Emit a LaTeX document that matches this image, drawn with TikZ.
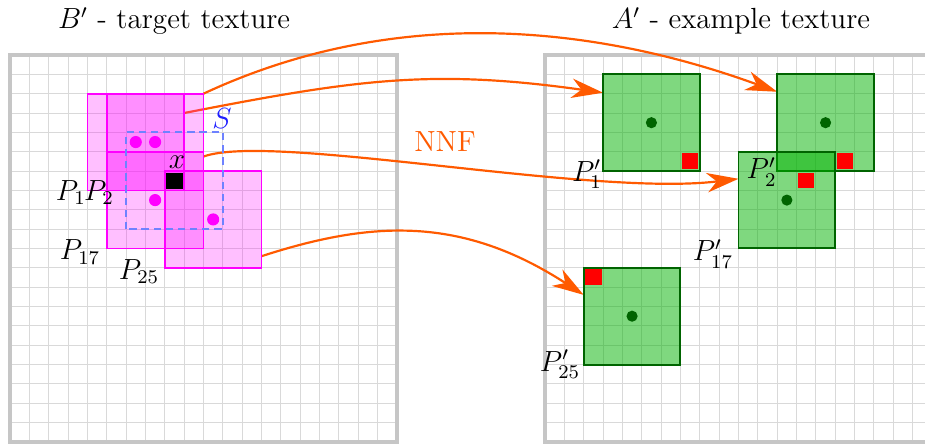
\documentclass[tikz,border=0pt]{standalone}
\usepackage{tikz}
\usetikzlibrary{arrows.meta,calc}
\definecolor{nnforange}{RGB}{255,90,0}
\definecolor{magpink}{RGB}{255,0,255}
\definecolor{patchgreen}{RGB}{0,178,0}
\definecolor{edgegreen}{RGB}{0,100,0}
\definecolor{sblue}{RGB}{110,130,255}
\definecolor{slabel}{RGB}{30,30,255}
\pgfdeclarelayer{griglia}
\pgfdeclarelayer{frecce}
\pgfsetlayers{griglia,frecce,main}
\tikzset{
  cella/.style={gray!30, line width=0.4pt, step=1},
  cornice/.style={gray!45, line width=1.3pt},
  magpatch/.style={draw=magpink, line width=0.7pt, fill=magpink, fill opacity=0.25,
    minimum size=1.4cm, inner sep=0pt, outer sep=0pt},
  verdepatch/.style={draw=edgegreen, line width=0.8pt, fill=patchgreen, fill opacity=0.5,
    minimum size=1.4cm, inner sep=0pt, outer sep=0pt},
  nnf/.style={draw=nnforange, line width=0.9pt, -{Stealth[length=13pt,width=8pt,inset=4pt]}}
}
\begin{document}
\begin{tikzpicture}[x=0.28cm,y=0.28cm,font=\large]
        \useasboundingbox (-0.517,-0.103) rectangle (47.29,22.842);
        % griglie
        \begin{pgfonlayer}{griglia}
        \draw[cella] (0,0) grid (20,20);\draw[cornice] (0,0) rectangle (20,20);
        \begin{scope}[shift={(27.65,0)}]
        \draw[cella] (0,0) grid (20,20);\draw[cornice] (0,0) rectangle (20,20);
        \end{scope}
        \end{pgfonlayer}
        % titoli
        \node (titB) at (8.48,21.75) {$B'$ - target texture};
        \node (titA) at (37.78,21.75) {$A'$ - example texture};
        % patch target
        \node[magpatch] (P1) at (6.5,15.5) {};\node[magpatch] (P2) at (7.5,15.5) {};
        \node[magpatch] (P17) at (7.5,12.5) {};\node[magpatch] (P25) at (10.5,11.5) {};
        % finestra S e pixel x
        \draw[sblue, line width=0.9pt, dash pattern=on 3pt off 2pt] (6,11) rectangle (11,16);
        \fill[black] (8.08,13.08) rectangle (8.92,13.92);
        % centri
        \fill[magpink] (P1.center) circle (2.5pt);\fill[magpink] (P2.center) circle (2.5pt);
        \fill[magpink] (P17.center) circle (2.5pt);\fill[magpink] (P25.center) circle (2.5pt);
        % lettere
        \node[text=slabel] (lS) at (10.96,16.74) {$S$};
        \node (lx) at (8.63,14.47) {$x$};
        \node (lP1) at (3.15,12.9) {$P_1$};\node (lP2) at (4.6,12.9) {$P_2$};
        \node (lP17) at (3.62,9.82) {$P_{17}$};\node (lP25) at (6.67,8.8) {$P_{25}$};
        \node[text=nnforange] (lNNF) at (22.48,15.5) {NNF};
        % patch esempio
        \begin{scope}[shift={(27.65,0)}]
        \node[verdepatch] (P1r) at (5.5,16.5) {};\node[verdepatch] (P2r) at (14.5,16.5) {};
        \node[verdepatch] (P17r) at (12.5,12.5) {};\node[verdepatch] (P25r) at (4.5,6.5) {};
        \fill[red] (7.08,14.1) rectangle (7.92,14.92);\fill[red] (15.08,14.1) rectangle (15.92,14.92);
        \fill[red] (13.08,13.1) rectangle (13.92,13.92);\fill[red] (2.08,8.1) rectangle (2.92,8.92);
        \fill[edgegreen] (P1r.center) circle (2.3pt);\fill[edgegreen] (P2r.center) circle (2.3pt);
        \fill[edgegreen] (P17r.center) circle (2.3pt);\fill[edgegreen] (P25r.center) circle (2.3pt);
        \node (lP1r) at (2.17,13.85) {$P'_1$};\node (lP2r) at (11.2,13.96) {$P'_2$};
        \node (lP17r) at (8.68,9.72) {$P'_{17}$};\node (lP25r) at (0.78,4.03) {$P'_{25}$};
        \end{scope}
        % frecce
        \begin{pgfonlayer}{frecce}
        \draw[nnf] (P2.north east) .. controls +(25:11) and +(160:10) .. ($(P2r.north west)!0.18!(P2r.south west)$);
        \draw[nnf] ($(P1.north east)!0.2!(P1.south east)$) .. controls +(11:9) and +(172:9) .. ($(P1r.north west)!0.19!(P1r.south west)$);
        \draw[nnf] ($(P17.north east)!0.05!(P17.south east)$) .. controls +(20:3.7) and +(187:7.7) .. ($(P17r.north west)!0.28!(P17r.south west)$);
        \draw[nnf] ($(P25.north east)!0.88!(P25.south east)$) .. controls +(18:6) and +(147:7.5) .. ($(P25r.north west)!0.28!(P25r.south west)$);
        \end{pgfonlayer}
\end{tikzpicture}
\end{document}
